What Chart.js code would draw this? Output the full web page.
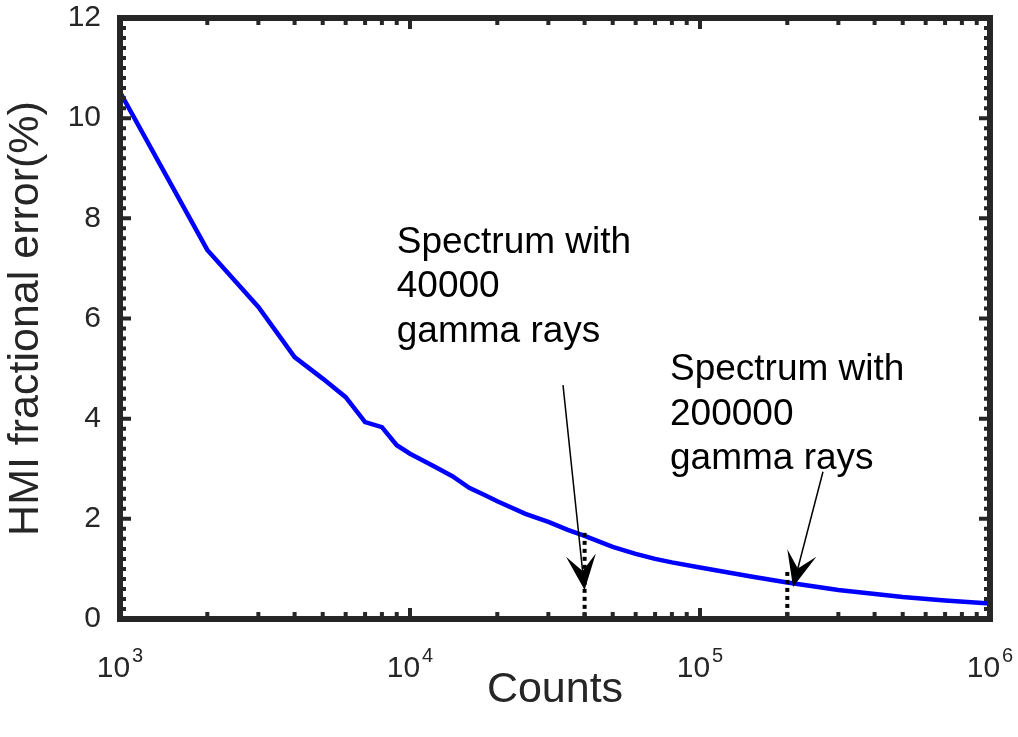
<!DOCTYPE html>
<html><head><meta charset="utf-8">
<script src="https://cdn.jsdelivr.net/npm/chart.js@4.4.1/dist/chart.umd.min.js"></script>
<style>html,body{margin:0;padding:0;background:#fff;} #wrap{width:1018px;height:737px;}</style>
</head><body><div id="wrap"><canvas id="c" width="1018" height="737"></canvas></div>
<script>
// ---- data ----
const counts   = [1000,2000,3000,4000,5000,6000,7000,8000,9000,10000,12000,14000,16000,18000,20000,25000,30000,35000,40000,50000,60000,70000,80000,100000,150000,200000,300000,500000,700000,1000000];
const errorPct = [10.52,7.37,6.23,5.23,4.8,4.43,3.93,3.83,3.47,3.3,3.06,2.85,2.62,2.48,2.35,2.1,1.94,1.78,1.66,1.44,1.3,1.2,1.13,1.03,0.85,0.73,0.58,0.44,0.37,0.31];
const xTickBase = '10';
const xTickExponents = [3,4,5,6];
const yTitle = 'HMI fractional error(%)';
const xTitle = 'Counts';
const markerCounts = [40000, 200000];
const markerTops   = [1.72, 0.94];
const arrowTailCounts = [33700, 265500];
const arrowTailValues = [4.67, 2.94];
const arrowTipCounts  = [40000, 209300];
const arrowTipValues  = [0.58, 0.64];
const noteCounts = [9000, 78800];
const noteValues = [7.31, 4.77];
const noteLines  = [["Spectrum with","40000","gamma rays"],["Spectrum with","200000","gamma rays"]];

const FONT = '"Liberation Sans", Arial, Helvetica, sans-serif';
const INK = '#262626';

const decorPlugin = {
  id: 'decor',
  afterDatasetsDraw(chart) {
    const {ctx, chartArea: a, scales: {x, y}} = chart;
    ctx.save();
    // dotted marker lines
    ctx.strokeStyle = '#000';
    ctx.lineWidth = 4;
    ctx.setLineDash([4, 4]);
    ctx.lineCap = 'butt';
    markerCounts.forEach((c, i) => {
      const px = x.getPixelForValue(c);
      ctx.beginPath();
      ctx.moveTo(px, y.getPixelForValue(markerTops[i]));
      ctx.lineTo(px, a.bottom);
      ctx.stroke();
    });
    ctx.setLineDash([]);
    // arrows
    arrowTailCounts.forEach((c, i) => {
      const x0 = x.getPixelForValue(c), y0 = y.getPixelForValue(arrowTailValues[i]);
      const x1 = x.getPixelForValue(arrowTipCounts[i]), y1 = y.getPixelForValue(arrowTipValues[i]);
      const dx = x1 - x0, dy = y1 - y0, len = Math.hypot(dx, dy);
      const ux = dx / len, uy = dy / len, nx = -uy, ny = ux;
      const L = 35, W = 15, N = 19;
      ctx.strokeStyle = '#000';
      ctx.lineWidth = 1.5;
      ctx.beginPath(); ctx.moveTo(x0, y0); ctx.lineTo(x1 - ux * N, y1 - uy * N); ctx.stroke();
      ctx.fillStyle = '#000';
      ctx.beginPath();
      ctx.moveTo(x1, y1);
      ctx.lineTo(x1 - ux * L + nx * W, y1 - uy * L + ny * W);
      ctx.lineTo(x1 - ux * N, y1 - uy * N);
      ctx.lineTo(x1 - ux * L - nx * W, y1 - uy * L - ny * W);
      ctx.closePath();
      ctx.fill();
    });
    // notes
    ctx.fillStyle = '#000';
    ctx.font = '37px ' + FONT;
    ctx.textBaseline = 'alphabetic';
    ctx.textAlign = 'left';
    noteCounts.forEach((c, i) => {
      const px = x.getPixelForValue(c), py = y.getPixelForValue(noteValues[i]);
      noteLines[i].forEach((t, k) => ctx.fillText(t, px, py + k * 44.5));
    });
    // frame
    ctx.strokeStyle = INK;
    ctx.lineWidth = 6;
    ctx.lineJoin = 'miter';
    ctx.strokeRect(a.left, a.top, a.right - a.left, a.bottom - a.top);
    // ticks
    ctx.lineWidth = 4;
    ctx.beginPath();
    for (let k = 1; k < 60; k++) {
      const v = k * 0.2;
      const py = y.getPixelForValue(v);
      const len = (k % 10 === 0) ? 11 : 6;
      ctx.moveTo(a.left, py); ctx.lineTo(a.left + len, py);
      ctx.moveTo(a.right, py); ctx.lineTo(a.right - len, py);
    }
    for (let e = 3; e < 6; e++) {
      for (let m = 1; m <= 9; m++) {
        if (m === 1 && e === 3) continue;
        const px = x.getPixelForValue(m * Math.pow(10, e));
        const len = (m === 1) ? 11 : 7;
        ctx.moveTo(px, a.bottom); ctx.lineTo(px, a.bottom - len);
        ctx.moveTo(px, a.top); ctx.lineTo(px, a.top + len);
      }
    }
    ctx.stroke();
    // x tick labels 10^n
    ctx.fillStyle = INK;
    xTickExponents.forEach(e => {
      const px = x.getPixelForValue(Math.pow(10, e));
      ctx.font = '30px ' + FONT;
      const w1 = ctx.measureText(xTickBase).width;
      ctx.font = '20px ' + FONT;
      const w2 = ctx.measureText(String(e)).width;
      const start = px - (w1 + w2 + 2) / 2;
      ctx.font = '30px ' + FONT;
      ctx.fillText(xTickBase, start, a.bottom + 58);
      ctx.font = '20px ' + FONT;
      ctx.fillText(String(e), start + w1 + 2, a.bottom + 43);
    });
    ctx.restore();
  }
};

new Chart(document.getElementById('c'), {
  type: 'line',
  data: {
    datasets: [{
      data: counts.map((c, i) => ({x: c, y: errorPct[i]})),
      borderColor: '#0000ff',
      borderWidth: 4.5,
      pointRadius: 0,
      tension: 0,
      fill: false
    }]
  },
  options: {
    responsive: false,
    animation: false,
    devicePixelRatio: 1,
    layout: {padding: {top: 18, right: 28, left: 0, bottom: 0}},
    plugins: {legend: {display: false}, tooltip: {enabled: false}},
    scales: {
      x: {
        type: 'logarithmic', min: 1000, max: 1000000,
        grid: {display: false, drawTicks: false},
        border: {display: false},
        ticks: {display: false},
        title: {display: true, text: xTitle, color: INK, font: {size: 43, family: FONT}, padding: {top: 0, bottom: 21}},
        afterFit(s) { s.height = 118; s.paddingLeft = 0; s.paddingRight = 0; }
      },
      y: {
        min: 0, max: 12,
        grid: {display: false, drawTicks: false},
        border: {display: false},
        ticks: {stepSize: 2, color: INK, font: {size: 30, family: FONT}, padding: 19},
        title: {display: true, text: yTitle, color: INK, font: {size: 43, family: FONT}, padding: {top: 0, bottom: 0}},
        afterFit(s) { s.width = 120; s.paddingTop = 0; s.paddingBottom = 0; }
      }
    }
  },
  plugins: [decorPlugin]
});
</script>
</body></html>
